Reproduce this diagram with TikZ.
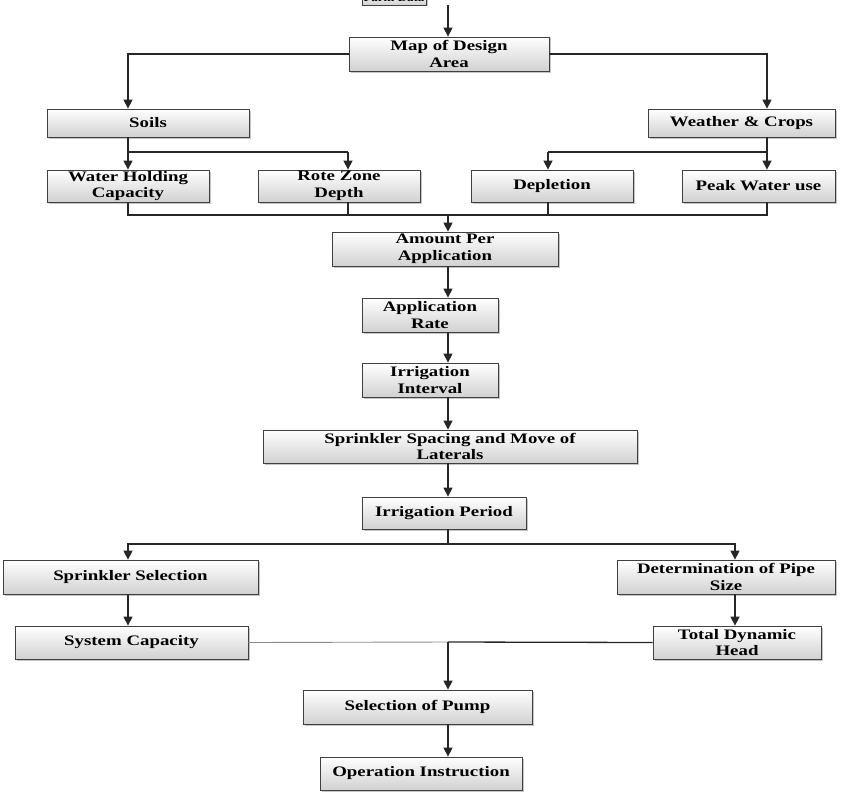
\documentclass[tikz,border=0pt]{standalone}
\usepackage{fontspec}
\setmainfont[FakeStretch=1.3]{Liberation Serif}
\usetikzlibrary{shadows,arrows.meta}
\begin{document}
\begin{tikzpicture}[x=1pt,y=-1pt,
 box/.style={draw=black!75,line width=0.8pt,top color=white,bottom color=black!18,
   drop shadow={shadow xshift=1.5pt,shadow yshift=-1.5pt,fill=black!45},
   align=center,inner sep=1pt,font=\bfseries\fontsize{14.5}{16.5}\selectfont},
 ln/.style={line width=1.3pt,black!85},
 ar/.style={ln,-{Triangle[length=9pt,width=9pt]}}]
\useasboundingbox (0,0) rectangle (850,808);
\newcommand\bx[6]{\node[box,minimum width={#4-#2},minimum height={#5-#3}] (#1) at ({(#2+#4)/2},{(#3+#5)/2}) {#6};}
\begin{scope}[box/.append style={font=\bfseries\fontsize{10}{11}\selectfont}]
\bx{farm}{362}{-8}{426}{5}{Farm Data}
\end{scope}
\bx{map}{349}{37}{549}{71}{Map of Design\\Area}
\bx{soils}{47}{109}{249}{137}{Soils}
\bx{wc}{648}{109}{835}{137}{Weather \& Crops}
\bx{whc}{47}{170}{209}{202}{Water Holding\\Capacity}
\bx{rzd}{258}{170}{420}{202}{Rote Zone\\Depth}
\bx{dep}{471}{170}{633}{202}{Depletion}
\bx{peak}{682}{170}{835}{202}{Peak Water use}
\bx{amt}{332}{232}{558}{266}{Amount Per\\Application}
\bx{rate}{362}{298}{498}{332}{Application\\Rate}
\bx{int}{362}{363}{498}{397}{Irrigation\\Interval}
\bx{spc}{263}{430}{637}{463}{Sprinkler Spacing and Move of\\Laterals}
\bx{per}{362}{497}{526}{529}{Irrigation Period}
\bx{ss}{3}{560}{258}{594}{Sprinkler Selection}
\bx{pipe}{617}{560}{835}{594}{Determination of Pipe\\Size}
\bx{sys}{15}{626}{248}{659}{System Capacity}
\bx{tdh}{653}{626}{821}{659}{Total Dynamic\\Head}
\bx{pump}{303}{690}{532}{724}{Selection of Pump}
\bx{op}{320}{757}{522}{790}{Operation Instruction}
\coordinate (j1) at (448,215);
\coordinate (j2) at (448,544);
\coordinate (j3) at (448,642);
\draw[ar] (farm.south -| 448,0) -- (map.north -| 448,0);
\draw[ar] (map.west) -| (soils.north -| 128,0);
\draw[ar] (map.east) -| (wc.north -| 767,0);
\draw[ln] (soils.south -| 128,0) -- (128,152) -- (348,152);
\draw[ar] (128,152) -- (whc.north -| 128,0);
\draw[ar] (348,152) -- (rzd.north -| 348,0);
\draw[ln] (wc.south -| 767,0) -- (767,152) -- (548,152);
\draw[ar] (767,152) -- (peak.north -| 767,0);
\draw[ar] (548,152) -- (dep.north -| 548,0);
\draw[ln] (whc.south -| 128,0) |- (j1) -| (peak.south -| 767,0);
\draw[ln] (rzd.south -| 348,0) -- (348,215);
\draw[ln] (dep.south -| 548,0) -- (548,215);
\draw[ar] (j1) -- (amt.north -| j1);
\draw[ar] (amt.south -| 448,0) -- (rate.north -| 448,0);
\draw[ar] (rate.south -| 448,0) -- (int.north -| 448,0);
\draw[ar] (int.south -| 448,0) -- (spc.north -| 448,0);
\draw[ar] (spc.south -| 448,0) -- (per.north -| 448,0);
\draw[ln] (per.south -| 448,0) -- (j2);
\draw[ar] (j2) -| (ss.north -| 128,0);
\draw[ar] (j2) -| (pipe.north -| 735,0);
\draw[ar] (ss.south -| 128,0) -- (sys.north -| 128,0);
\draw[ar] (pipe.south -| 735,0) -- (tdh.north -| 735,0);
\draw[line width=0.9pt,black!45] (sys.east) -- (j3);
\draw[ln] (tdh.west) -- (j3);
\draw[ar] (j3) -- (pump.north -| j3);
\draw[ar] (pump.south -| 448,0) -- (op.north -| 448,0);
\end{tikzpicture}
\end{document}
